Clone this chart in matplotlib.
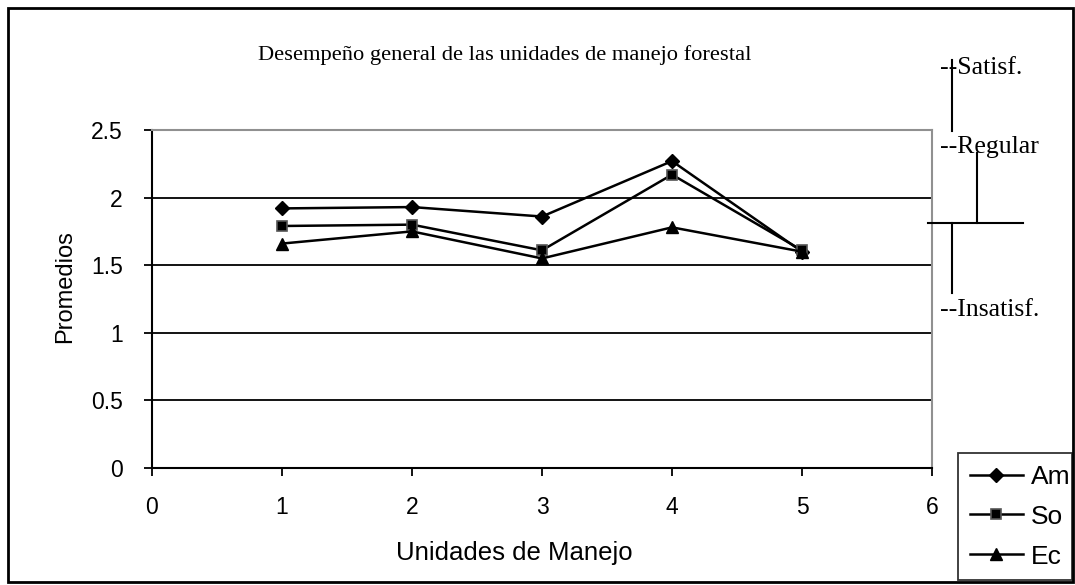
import matplotlib
matplotlib.use("Agg")
import matplotlib.pyplot as plt
from matplotlib.lines import Line2D
from matplotlib.patches import Rectangle

units = [1, 2, 3, 4, 5]
am = [1.92, 1.93, 1.86, 2.27, 1.60]
so = [1.79, 1.80, 1.61, 2.17, 1.61]
ec = [1.66, 1.75, 1.55, 1.78, 1.60]
series_names = ["Am", "So", "Ec"]
title = "Desempeño general de las unidades de manejo forestal"
annot_labels = ["--Satisf.", "--Regular", "--Insatisf."]

plt.rcParams["font.family"] = ["Liberation Sans", "DejaVu Sans"]

W, H = 1075, 585
fig = plt.figure(figsize=(W / 100, H / 100), dpi=100)
fig.patch.set_facecolor("white")

def fx(px):
    return px / W

def fy(py):
    return 1 - py / H

ax = fig.add_axes([fx(152), fy(468), fx(932) - fx(152), fy(130) - fy(468)])
ax.set_xlim(0, 6)
ax.set_ylim(0, 2.5)
ax.set_xticks(range(0, 7))
ax.set_yticks([0, 0.5, 1, 1.5, 2, 2.5])
ax.set_yticklabels(["0", "0.5", "1", "1.5", "2", "2.5"])
ax.yaxis.grid(True, color="black", linewidth=1.3)
ax.set_axisbelow(True)
for s in ["top", "right"]:
    ax.spines[s].set_color("#909090")
    ax.spines[s].set_linewidth(1.5)
for s in ["left", "bottom"]:
    ax.spines[s].set_color("black")
    ax.spines[s].set_linewidth(1.5)
ax.tick_params(axis="both", labelsize=16.5, length=6, width=1.3, direction="out")
ax.tick_params(axis="x", pad=14)
ax.tick_params(axis="y", pad=15)

lw = 1.8
ax.plot(units, am, color="black", lw=lw, marker="D", ms=7, label=series_names[0], clip_on=False)
ax.plot(units, so, color="black", lw=lw, marker="s", ms=7, mec="#555555", mew=1.2, label=series_names[1], clip_on=False)
ax.plot(units, ec, color="black", lw=lw, marker="^", ms=9, label=series_names[2], clip_on=False)

ax.set_xlabel("Unidades de Manejo", fontsize=18.5, va="center")
ax.set_ylabel("Promedios", fontsize=17, va="center")
ax.xaxis.set_label_coords((514 - 152) / 780, (468 - 553) / 338)
ax.yaxis.set_label_coords((65 - 152) / 780, (468 - 287) / 338)

fig.text(fx(505), fy(55), title, ha="center", va="center",
         family="Liberation Serif", fontsize=16.2)

# annotations on the right
afs = 18.5
fig.text(fx(940), fy(68), annot_labels[0], ha="left", va="center", family="Liberation Serif", fontsize=afs)
fig.text(fx(940), fy(147), annot_labels[1], ha="left", va="center", family="Liberation Serif", fontsize=afs)
fig.text(fx(940), fy(310), annot_labels[2], ha="left", va="center", family="Liberation Serif", fontsize=afs)
kw = dict(color="black", lw=1.5, transform=fig.transFigure)
fig.add_artist(Line2D([fx(952), fx(952)], [fy(60), fy(131)], **kw))
fig.add_artist(Line2D([fx(977), fx(977)], [fy(153), fy(223)], **kw))
fig.add_artist(Line2D([fx(928), fx(1023)], [fy(223), fy(223)], **kw))
fig.add_artist(Line2D([fx(952), fx(952)], [fy(223), fy(293)], **kw))

# outer border
fig.add_artist(Rectangle((fx(8), fy(582)), fx(1073) - fx(8), fy(8) - fy(582),
                         fill=False, edgecolor="black", lw=2, transform=fig.transFigure))

leg = fig.legend(loc="upper left", bbox_to_anchor=(fx(958), fy(580), fx(1072) - fx(958), fy(453) - fy(580)),
                 mode="expand", fontsize=19, frameon=True, fancybox=False, handlelength=2.0,
                 borderpad=0.45, labelspacing=0.6, handletextpad=0.3, borderaxespad=0)
leg.get_frame().set_edgecolor("black")
leg.get_frame().set_linewidth(1.3)

fig.savefig("out.png", dpi=100)
